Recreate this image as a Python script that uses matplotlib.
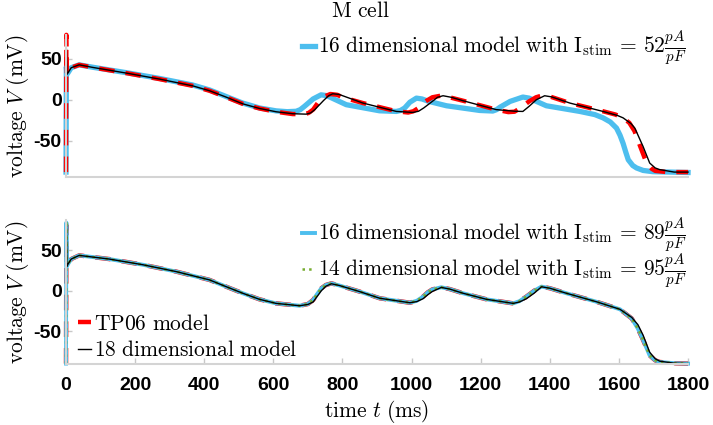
import numpy as np
import matplotlib
matplotlib.use("Agg")
import matplotlib.pyplot as plt

plt.rcParams['mathtext.fontset'] = 'cm'
plt.rcParams['axes.unicode_minus'] = False
plt.rcParams['font.family'] = 'Liberation Sans'
plt.rcParams['font.weight'] = 'bold'

# ---- top panel data ----
t_tp06_a = [0, 1, 2.5, 6, 15, 38, 77, 174, 270, 366, 415, 463, 511, 560, 608, 656, 690, 702, 715, 730, 748,
            765, 785, 800, 859, 956, 990, 1005, 1020, 1040, 1060, 1085, 1110, 1149, 1245, 1280, 1298, 1315,
            1340, 1360, 1380, 1400, 1458, 1554, 1590, 1612, 1630, 1645, 1660, 1680, 1695, 1705, 1740, 1800]
v_tp06_a = [-88, 79, 31, 33, 39, 42.5, 39.4, 32.5, 25.2, 17, 11, 3.3, -4.9, -10.6, -14.6, -17.4, -17.5, -16, -12, -3, 4,
            7, 6, 3, -4, -14, -15.5, -14, -10, -2, 3, 5, 3, -1.2, -12, -15, -14.5, -10,
            -2, 3, 5.5, 4, -4, -14, -18, -22, -28, -38, -55, -77, -84, -86.5, -88, -88]

t_d18_a = [0, 1, 2.5, 6, 15, 38, 77, 174, 270, 366, 415, 463, 511, 560, 608, 656, 695, 708, 720, 745, 760,
           772, 790, 800, 859, 956, 1004, 1020, 1035, 1060, 1075, 1091, 1115, 1149, 1245, 1300, 1322, 1340,
           1361, 1385, 1405, 1458, 1554, 1595, 1612, 1635, 1646, 1670, 1689, 1705, 1718, 1760, 1800]
v_d18_a = [-88, 62, 31, 33, 39, 42.5, 39.4, 32.5, 25.2, 17, 11, 3.3, -4.9, -10.6, -14.6, -17, -17.5, -16, -12, -1, 5,
           7.3, 6.5, 5, -4, -14.2, -15.4, -14, -10, -2, 3, 4.9, 3, -1.2, -12, -14, -14.2, -8,
           0, 4.9, 3.5, -4, -14.2, -19, -22, -29, -34.5, -57, -77, -83, -85, -88, -88]

t_d16_a = [0, 1, 2.5, 6, 15, 38, 77, 174, 270, 366, 415, 463, 511, 560, 608, 640, 666, 678, 690, 715, 738,
           755, 770, 811, 907, 956, 968, 980, 995, 1014, 1030, 1050, 1101, 1197, 1235, 1246, 1256, 1285, 1322,
           1340, 1390, 1487, 1530, 1554, 1575, 1593, 1603, 1612, 1620, 1627, 1640, 1651, 1670, 1698, 1800]
v_d16_a = [-88, 40, 31, 33, 39, 42.5, 39.6, 33, 26, 18, 12, 4, -4, -10, -13.5, -14.5, -14, -12, -8, 1, 6,
           5, 2, -6, -13.4, -14.2, -13, -10, -3, 2, 1, -2, -7.3, -13, -13.7, -12, -9, -2, 3.3,
           2, -7.3, -14.2, -18, -22, -27, -34.5, -43, -53, -64, -73, -80, -83, -86, -87.5, -88.5]

# ---- bottom panel data ----
t_b = [0, 1, 2.5, 6, 15, 38, 125, 222, 318, 415, 463, 512, 560, 608, 676, 700, 715, 727, 739, 752, 768, 790, 850,
       908, 995, 1015, 1033, 1047, 1060, 1086, 1110, 1149, 1217, 1294, 1312, 1332, 1355, 1376, 1400, 1448, 1535, 1603,
       1637, 1655, 1670, 1689, 1705, 1718, 1760, 1800]
v_tp06_b = [-90, 81, 30, 33, 39, 43.5, 39, 32, 23.6, 13.3, 5, -3.3, -10.7, -15.7, -18.6, -16.5, -11.5, -4, 3, 7, 9, 6.5, -1.2,
            -9.4, -14.9, -12.5, -7.4, -2, 1.5, 4.2, 2, -3.2, -10.7, -15.7, -13, -7.4, 0, 5, 3, -3.2, -13.7, -23,
            -34.3, -47, -61, -80, -86, -88, -89.5, -90]
v_d16_b = [-90, 84, 30, 33, 39, 43.5, 39, 32, 23.6, 13.3, 5, -3.3, -10.7, -15.7, -18.6, -16.5, -11.5, -4, 3, 7, 9, 6.5, -1.2,
           -9.4, -14.9, -12.5, -7.4, -2, 1.5, 4.2, 2, -3.2, -10.7, -15.7, -13, -7.4, 0, 5, 3, -3.2, -13.7, -23,
           -34.3, -47, -61, -80, -86, -88, -89.5, -90]
v_d14_b = [-90, 86, 30, 33, 39, 43.5, 39, 32, 23.6, 13.3, 5, -3.3, -10.7, -15.7, -18.6, -16.5, -11.5, -4, 3, 7, 9, 6.5, -1.2,
           -9.4, -14.9, -12.5, -7.4, -2, 1.5, 4.2, 2, -3.2, -10.7, -15.7, -13, -7.4, 0, 5, 3, -3.2, -13.7, -23,
           -34.3, -47, -61, -80, -86, -88, -89.5, -90]
v_d18_b = [-90, 80, 30, 33, 39, 43.5, 39, 32, 23.6, 13.3, 5, -3.3, -10.7, -15.7, -18.6, -17, -14, -7, 0, 5.5, 8.5, 6.5, -1.2,
           -9.4, -14.9, -13.5, -10, -5, -1, 4, 2, -3.2, -10.7, -15.7, -14, -10, -3, 4.8, 3, -3.2, -13.7, -23,
           -33, -42, -55, -76, -84, -87, -89.5, -90]

xticks = [0, 200, 400, 600, 800, 1000, 1200, 1400, 1600, 1800]
yticks = [-50, 0, 50]

c_red = '#FF0000'
c_blue = '#4DBEEE'
c_green = '#77AC30'

fig = plt.figure(figsize=(7.13, 4.25), dpi=100)
ax1 = fig.add_axes([0.0926, 0.5835, 0.8724, 0.3345])
ax2 = fig.add_axes([0.0926, 0.1435, 0.8724, 0.3385])

lab = r'$\mathrm{voltage}\ V\ \mathrm{(mV)}$'
for ax in (ax1, ax2):
    for s in ('top', 'right'):
        ax.spines[s].set_visible(False)
    for s in ('left', 'bottom'):
        ax.spines[s].set_color('#d4d4d4')
        ax.spines[s].set_linewidth(1.5)
    ax.set_xlim(0, 1800)
    ax.set_yticks(yticks)
    ax.tick_params(direction='in', length=4, color='#c8c8c8', width=1, labelsize=14)
    ax.tick_params(axis='y', pad=3)
    ax.tick_params(axis='x', pad=9)
    ax.set_ylabel(lab, fontsize=15.5, labelpad=2)

dash = (0, (3.5, 2.5))
leg_kw = dict(frameon=False, fontsize=15.5, handlelength=0.6, handletextpad=0.15,
              borderaxespad=0, bbox_transform=fig.transFigure)


def stim_label(n, val):
    return r'$\mathrm{%d\ dimensional\ model\ with\ I}_{\mathrm{stim}}\,=\,%d\frac{pA}{pF}$' % (n, val)


# top panel
ax1.set_ylim(-94, 79)
l16, = ax1.plot(t_d16_a, v_d16_a, color=c_blue, lw=3.8, clip_on=False)
ax1.plot(t_tp06_a, v_tp06_a, color=c_red, lw=3.2, ls=dash, clip_on=False)
ax1.plot(t_d18_a, v_d18_a, color='k', lw=1.0, clip_on=False)
ax1.set_xticks([])
ax1.legend([l16], [stim_label(16, 52)], loc='upper right', bbox_to_anchor=(0.975, 0.952), **leg_kw)
fig.text(0.505, 0.972, r'$\mathrm{M\ cell}$', ha='center', va='center', fontsize=15.5)

# bottom panel
ax2.set_ylim(-90.5, 87)
r, = ax2.plot(t_b, v_tp06_b, color=c_red, lw=3.2, ls=dash, clip_on=False)
b, = ax2.plot(t_b, v_d16_b, color=c_blue, lw=2.8, clip_on=False)
g, = ax2.plot(t_b, v_d14_b, color=c_green, lw=1.8, ls=':', clip_on=False)
k, = ax2.plot(t_b, v_d18_b, color='k', lw=1.0, clip_on=False)
ax2.set_xticks(xticks)
ax2.set_xlabel(r'$\mathrm{time}\ t\ \mathrm{(ms)}$', fontsize=15.5, labelpad=3)

leg1 = ax2.legend([b, g], [stim_label(16, 89), stim_label(14, 95)],
                  loc='upper right', bbox_to_anchor=(0.975, 0.512), labelspacing=-0.12, **leg_kw)
ax2.add_artist(leg1)
ax2.legend([r, k], [r'$\mathrm{TP06\ model}$', r'$\mathrm{18\ dimensional\ model}$'],
           loc='lower left', bbox_to_anchor=(0.097, 0.130), labelspacing=0.25, **leg_kw)

fig.savefig('out.png', dpi=100)
